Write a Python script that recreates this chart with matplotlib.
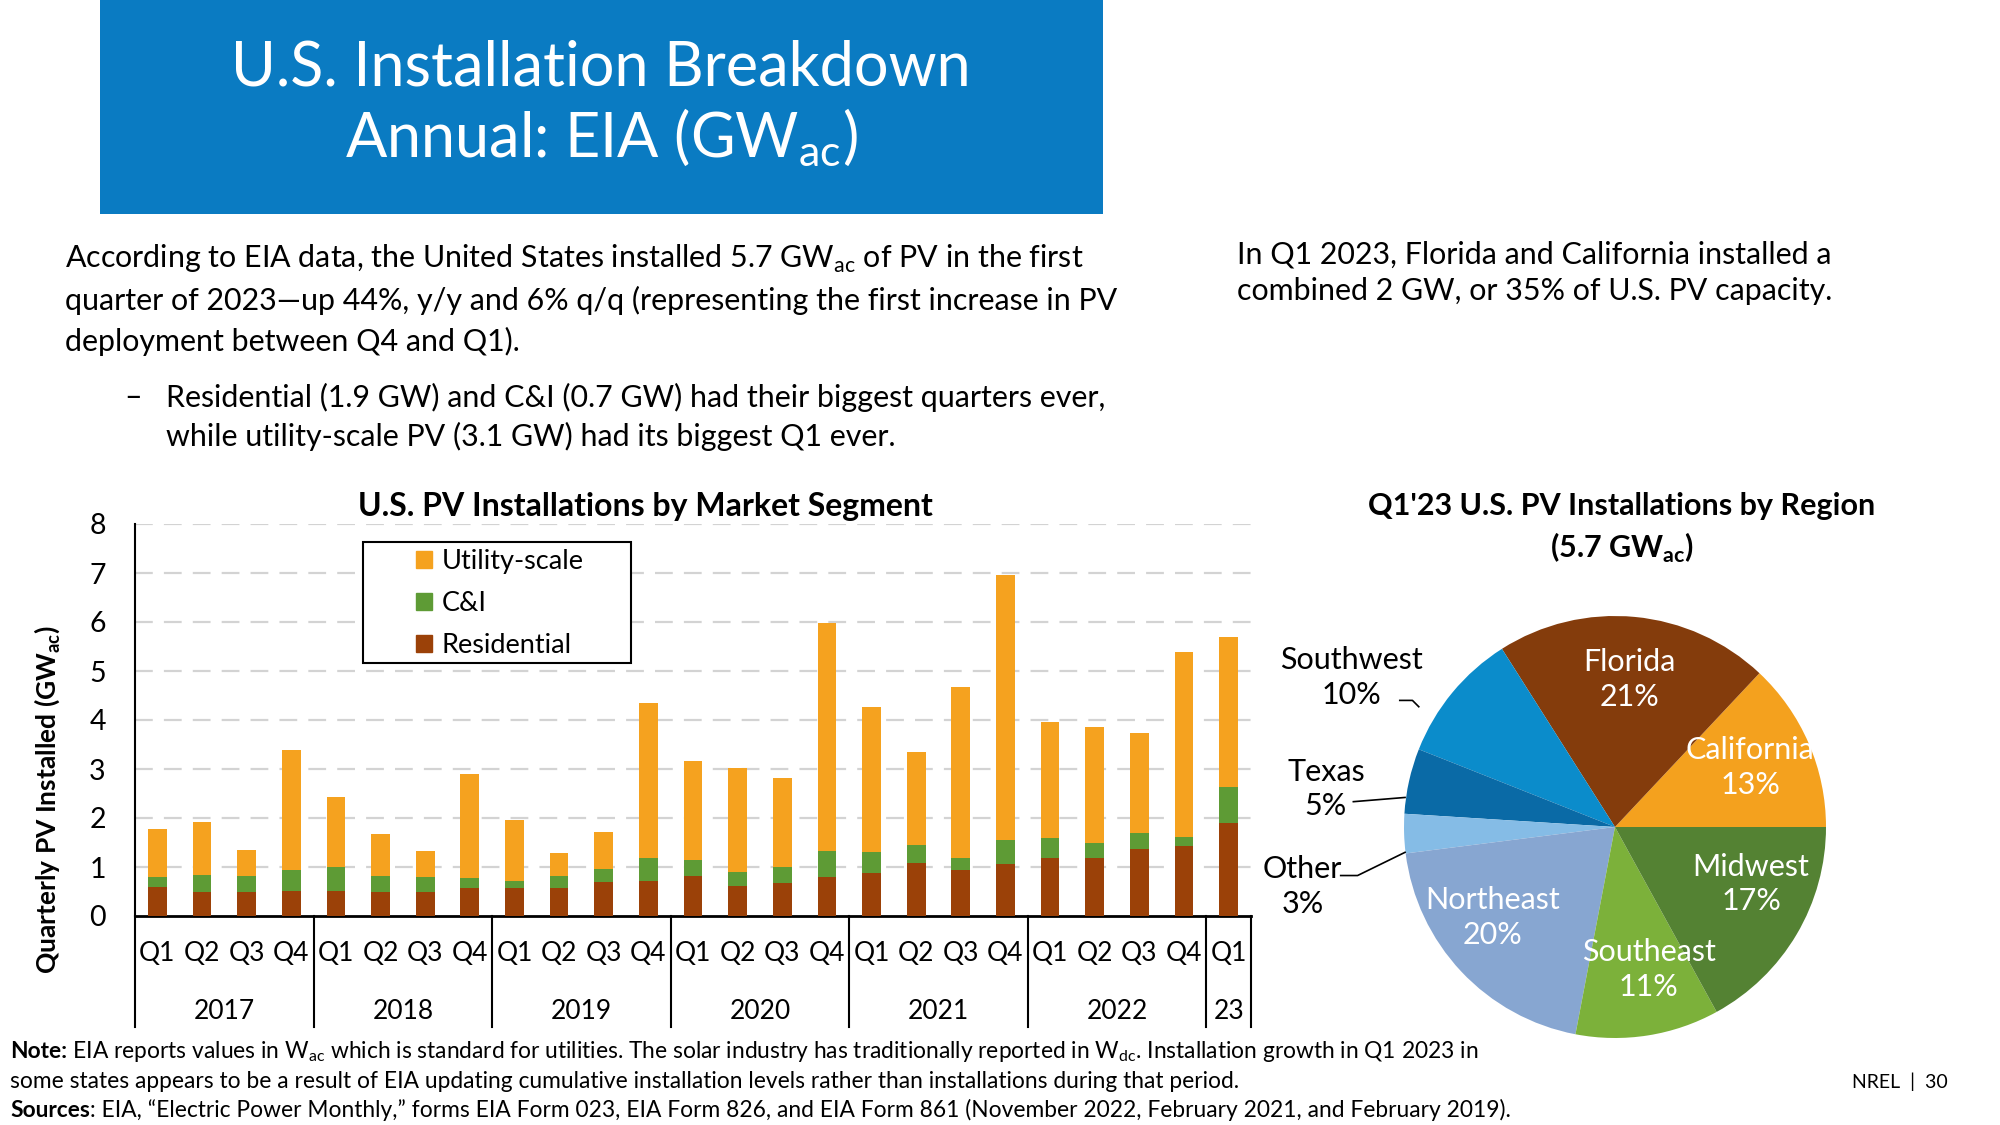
import matplotlib
matplotlib.use('Agg')
import matplotlib.pyplot as plt
from matplotlib.patches import Rectangle, Patch
import matplotlib.transforms as mtransforms
import numpy as np

# ---------------- data ----------------
quarter_labels = ['Q1', 'Q2', 'Q3', 'Q4'] * 6 + ['Q1']
year_labels = ['2017', '2018', '2019', '2020', '2021', '2022', '23']
quarters_per_year = [4, 4, 4, 4, 4, 4, 1]
residential = [0.59, 0.50, 0.49, 0.51, 0.51, 0.50, 0.50, 0.57, 0.57, 0.57, 0.69, 0.71,
               0.81, 0.61, 0.67, 0.80, 0.88, 1.08, 0.93, 1.06, 1.18, 1.18, 1.36, 1.42, 1.89]
c_and_i = [0.21, 0.34, 0.32, 0.42, 0.50, 0.31, 0.29, 0.20, 0.14, 0.24, 0.26, 0.47,
           0.33, 0.28, 0.32, 0.53, 0.43, 0.36, 0.25, 0.49, 0.41, 0.31, 0.33, 0.19, 0.74]
utility = [0.98, 1.07, 0.53, 2.45, 1.41, 0.87, 0.54, 2.13, 1.24, 0.47, 0.76, 3.16,
           2.02, 2.14, 1.82, 4.64, 2.96, 1.90, 3.49, 5.41, 2.37, 2.36, 2.05, 3.78, 3.07]
y_ticks = [0, 1, 2, 3, 4, 5, 6, 7, 8]

regions = ['California', 'Florida', 'Southwest', 'Texas', 'Other', 'Northeast', 'Southeast', 'Midwest']
region_shares = [13, 21, 10, 5, 3, 20, 11, 17]

# ---------------- style ----------------
FONT = 'Lato'
plt.rcParams['font.family'] = [FONT, 'DejaVu Sans']
plt.rcParams['mathtext.fontset'] = 'custom'
plt.rcParams['mathtext.rm'] = FONT
plt.rcParams['mathtext.bf'] = FONT + ':bold'

C_UTIL = '#f5a21f'
C_CI = '#5e9b35'
C_RES = '#9b4108'
region_colors = {'California': '#f4a11e', 'Florida': '#843c0c', 'Southwest': '#0b8ccb',
                 'Texas': '#0a6aa6', 'Other': '#85bce6', 'Northeast': '#87a6d1',
                 'Southeast': '#7cb13a', 'Midwest': '#548233'}

W, H = 2000, 1125
fig = plt.figure(figsize=(20, 11.25), dpi=100)


def fx(x):
    return x / W


def fy(y):
    return 1 - y / H


# ---------------- header ----------------
fig.patches.append(Rectangle((fx(100), fy(214)), 1003 / W, 214 / H, transform=fig.transFigure,
                             facecolor='#0a7bc2', edgecolor='none', zorder=0))
fig.text(fx(601), fy(68), 'U.S. Installation Breakdown', color='white', fontsize=44,
         fontweight='normal', ha='center', va='center')
fig.text(fx(601), fy(138), r'Annual: EIA (GW$_\mathregular{ac}$)', color='white', fontsize=44,
         fontweight='normal', ha='center', va='center')

body_fs = 21.9
fig.text(fx(65), fy(259), r'According to EIA data, the United States installed 5.7 GW$_\mathregular{ac}$ of PV in the first',
         fontsize=body_fs, va='center')
fig.text(fx(65), fy(300), 'quarter of 2023\u2014up 44%, y/y and 6% q/q (representing the first increase in PV',
         fontsize=body_fs, va='center')
fig.text(fx(65), fy(341), 'deployment between Q4 and Q1).', fontsize=body_fs, va='center')
fig.text(fx(124), fy(397), '\u2013', fontsize=body_fs, va='center')
fig.text(fx(166), fy(397), 'Residential (1.9 GW) and C&I (0.7 GW) had their biggest quarters ever,',
         fontsize=body_fs, va='center')
fig.text(fx(166), fy(436), 'while utility-scale PV (3.1 GW) had its biggest Q1 ever.', fontsize=body_fs, va='center')

fig.text(fx(1237), fy(255), 'In Q1 2023, Florida and California installed a', fontsize=body_fs, va='center')
fig.text(fx(1237), fy(291), 'combined 2 GW, or 35% of U.S. PV capacity.', fontsize=body_fs, va='center')

note_fs = 16.4
renderer = fig.canvas.get_renderer()
t_note = fig.text(fx(10), fy(1058), 'Note:', fontsize=note_fs, fontweight='bold', va='baseline')
w_note = t_note.get_window_extent(renderer).width
fig.text(fx(10 + w_note), fy(1058),
         r' EIA reports values in W$_\mathregular{ac}$ which is standard for utilities. '
         r'The solar industry has traditionally reported in W$_\mathregular{dc}$. Installation growth in Q1 2023 in',
         fontsize=note_fs, va='baseline')
fig.text(fx(10), fy(1088), 'some states appears to be a result of EIA updating cumulative installation levels rather than installations during that period.',
         fontsize=note_fs, va='baseline')
t_src = fig.text(fx(10), fy(1117), 'Sources', fontsize=note_fs, fontweight='bold', va='baseline')
w_src = t_src.get_window_extent(renderer).width
fig.text(fx(10 + w_src), fy(1117),
         ': EIA, \u201cElectric Power Monthly,\u201d forms EIA Form 023, EIA Form 826, and EIA Form 861 (November 2022, February 2021, and February 2019).',
         fontsize=note_fs, va='baseline')
fig.text(fx(1948), fy(1082), 'NREL  |  30', fontsize=14, ha='right', va='center')

# ---------------- bar chart ----------------
ax = fig.add_axes([fx(135), fy(916), 1116 / W, 392 / H])
x = np.arange(len(residential))
res = np.array(residential)
ci = np.array(c_and_i)
ut = np.array(utility)
bw = 0.42
ax.bar(x, res, bw, color=C_RES, zorder=3, label='Residential')
ax.bar(x, ci, bw, bottom=res, color=C_CI, zorder=3, label='C&I')
ax.bar(x, ut, bw, bottom=res + ci, color=C_UTIL, zorder=3, label='Utility-scale')

ax.set_xlim(-0.5, len(x) - 0.5)
ax.set_ylim(0, 8)
ax.set_yticks(y_ticks)
ax.set_yticklabels([str(t) for t in y_ticks], fontsize=20.5)
for t in y_ticks[1:]:
    ax.axhline(t, color='#d3d3d3', lw=1.6, dashes=(8, 5), zorder=1)
for s in ['top', 'right']:
    ax.spines[s].set_visible(False)
ax.spines['left'].set_linewidth(1.5)
ax.spines['bottom'].set_linewidth(2)
ax.tick_params(axis='y', length=0, pad=21)
ax.set_xticks(x)
ax.set_xticklabels(quarter_labels, fontsize=19)
ax.tick_params(axis='x', length=0, pad=18)

trans = mtransforms.blended_transform_factory(ax.transData, ax.transAxes)
bottom_sep = -(1027 - 916) / 392
year_y = -(1012 - 916) / 392
start = 0
bounds = [-0.5]
for yl, n in zip(year_labels, quarters_per_year):
    ax.text(start + (n - 1) / 2, year_y, yl, transform=trans, ha='center', va='center', fontsize=19)
    start += n
    bounds.append(start - 0.5)
for b in bounds:
    ax.plot([b, b], [0, bottom_sep], transform=trans, color='black', lw=1.5, clip_on=False)

fig.text(fx(645), fy(506), 'U.S. PV Installations by Market Segment', fontsize=23, fontweight='bold',
         ha='center', va='center')
fig.text(fx(47), fy(800), r'Quarterly PV Installed (GW$_\mathbf{ac}$)', rotation=90, fontsize=19,
         fontweight='bold', ha='center', va='center')

# legend: frame drawn as its own box, entries inside
ax.add_patch(Rectangle((0.2046, 0.645), 0.24, 0.309, transform=ax.transAxes, facecolor='white',
                       edgecolor='black', lw=1.5, zorder=5, clip_on=False))
handles = [Patch(color=C_UTIL), Patch(color=C_CI), Patch(color=C_RES)]
leg = ax.legend(handles, ['Utility-scale', 'C&I', 'Residential'], loc='upper left',
                bbox_to_anchor=(0.252, 0.936), fontsize=19.5, frameon=False,
                handlelength=0.6, handleheight=0.6, handletextpad=0.35, labelspacing=0.62,
                borderpad=0, borderaxespad=0)
leg.set_zorder(6)

# ---------------- pie ----------------
pax = fig.add_axes([fx(1404), fy(1038), 422 / W, 422 / H])
wedges, _ = pax.pie(region_shares, colors=[region_colors[r] for r in regions], startangle=0,
                    counterclock=True, radius=1)
pax.set_xlim(-1, 1)
pax.set_ylim(-1, 1)
pax.set_aspect('equal')
pax.axis('off')

pie_fs = 22
inside = {'Florida': (0.07, 0.70), 'California': (0.64, 0.28), 'Midwest': (0.645, -0.27),
          'Southeast': (0.16, -0.675), 'Northeast': (-0.58, -0.43)}
for name, share in zip(regions, region_shares):
    if name in inside:
        px, py = inside[name]
        pax.text(px, py, f'{name}\n{share}%', color='white', ha='center', va='center', fontsize=pie_fs,
                 linespacing=1.3, clip_on=False)

outside = {'Southwest': (-1.25, 0.71), 'Texas': (-1.37, 0.18), 'Other': (-1.48, -0.28)}
for name, share in zip(regions, region_shares):
    if name in outside:
        tx, ty = outside[name]
        pax.text(tx, ty, f'{name}\n{share}%', color='black', ha='center', va='center', fontsize=pie_fs,
                 linespacing=1.3, clip_on=False)
pax.plot([-1.02, -0.96, -0.93], [0.6, 0.6, 0.57], color='black', lw=1.2, clip_on=False)
pax.plot([-1.24, -0.995], [0.12, 0.14], color='black', lw=1.2, clip_on=False)
pax.plot([-1.3, -1.22, -0.995], [-0.23, -0.23, -0.12], color='black', lw=1.2, clip_on=False)

fig.text(fx(1622), fy(506), "Q1'23 U.S. PV Installations by Region", fontsize=22, fontweight='bold',
         ha='center', va='center')
fig.text(fx(1622), fy(548), r'(5.7 GW$_\mathbf{ac}$)', fontsize=22, fontweight='bold', ha='center', va='center')

fig.savefig('out.png', dpi=100)
